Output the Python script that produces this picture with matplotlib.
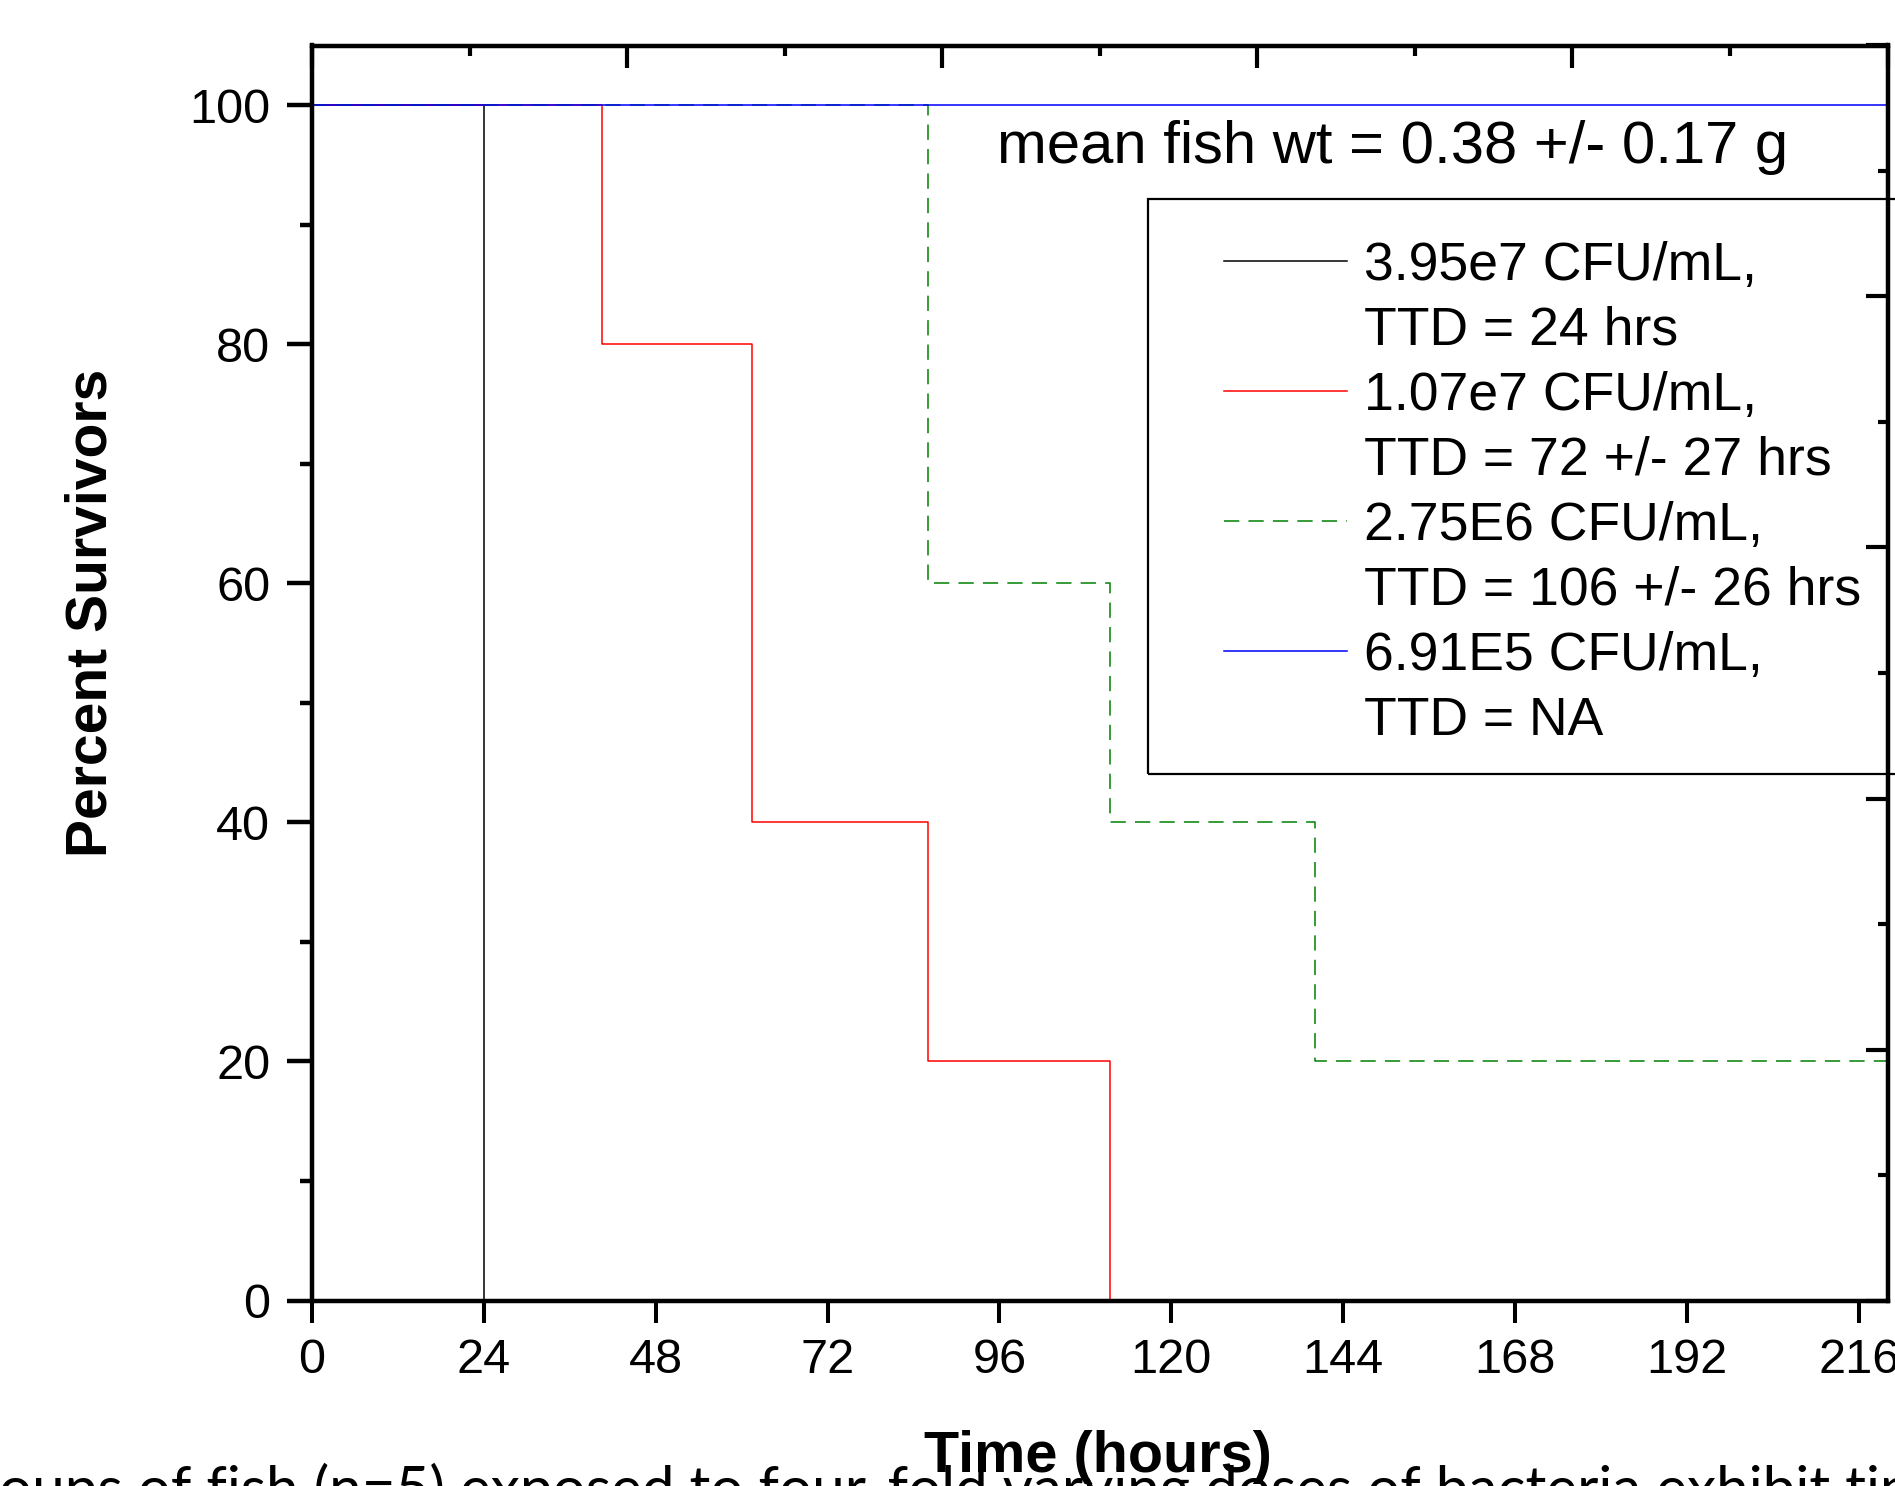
import matplotlib
matplotlib.use("Agg")
import matplotlib.pyplot as plt
from matplotlib.ticker import MultipleLocator
from matplotlib.lines import Line2D
from matplotlib.patches import Rectangle

plt.rcParams['font.family'] = ['Liberation Sans', 'DejaVu Sans']

# survival curves (time in hours, percent survivors), step after each time
black_t = [0, 24, 220]
black_s = [100, 0, 0]
red_t = [0, 40.5, 61.5, 86, 111.5, 220]
red_s = [100, 80, 40, 20, 0, 0]
green_t = [0, 86, 111.5, 140, 220]
green_s = [100, 60, 40, 20, 20]
blue_t = [0, 220]
blue_s = [100, 100]

doses = ["3.95e7 CFU/mL,", "1.07e7 CFU/mL,", "2.75E6 CFU/mL,", "6.91E5 CFU/mL,"]
ttd = ["TTD = 24 hrs", "TTD = 72 +/- 27 hrs", "TTD = 106 +/- 26 hrs", "TTD = NA"]
colors = ["black", "#ff0000", "#008000", "#0000ff"]
styles = ["-", "-", (0, (10, 6)), "-"]

W, H = 1895, 1486
fig = plt.figure(figsize=(W / 100, H / 100), dpi=100)
ax = fig.add_axes([312 / W, 1 - 1300.5 / H, (1887.5 - 312) / W, (1300.5 - 45.5) / H])

series = [(black_t, black_s), (red_t, red_s), (green_t, green_s), (blue_t, blue_s)]
for (t, s), c, ls in zip(series, colors, styles):
    ax.step(t, s, where='post', color=c, linestyle=ls, lw=1.1)

ax.set_xlim(0, 220)
ax.set_ylim(0, 105)
ax.set_xticks(range(0, 217, 24))
ax.set_yticks(range(0, 101, 20))
ax.yaxis.set_minor_locator(MultipleLocator(10))
for sp in ax.spines.values():
    sp.set_linewidth(3)
ax.tick_params(axis='x', direction='out', length=16, width=2.9, labelsize=35, pad=11)
ax.tick_params(axis='y', which='major', direction='out', length=18, width=3.2, labelsize=35, pad=12)
ax.tick_params(axis='y', which='minor', direction='out', length=8.6, width=3.2)

# top and right axes carry their own inward ticks
axt = ax.twiny()
axt.set_xlim(0, 220)
axt.xaxis.set_major_locator(MultipleLocator(44))
axt.xaxis.set_minor_locator(MultipleLocator(22))
axt.tick_params(axis='x', which='major', direction='in', length=16, width=3, labeltop=False)
axt.tick_params(axis='x', which='minor', direction='in', length=7, width=3)
axr = ax.twinx()
axr.set_ylim(0, 105)
axr.yaxis.set_major_locator(MultipleLocator(21))
axr.yaxis.set_minor_locator(MultipleLocator(10.5))
axr.tick_params(axis='y', which='major', direction='in', length=16, width=3, labelright=False)
axr.tick_params(axis='y', which='minor', direction='in', length=7, width=3)
for a in (axt, axr):
    for sp in a.spines.values():
        sp.set_linewidth(3)

fig.text(107 / W, 1 - 613 / H, "Percent Survivors", rotation=90, rotation_mode='anchor',
         ha='center', va='baseline', fontsize=41, fontweight='bold')
fig.text(1098 / W, 1 - 1472 / H, "Time (hours)", ha='center', va='baseline',
         fontsize=41.5, fontweight='bold')

ax.text(95.7, 95.2, "mean fish wt = 0.38 +/- 0.17 g", fontsize=43, va='baseline')

# legend: frame drawn separately, one row per text line
fig.patches.append(Rectangle((1148 / W, 1 - 774 / H), (2100 - 1148) / W, (774 - 199) / H,
                             transform=fig.transFigure, fill=False, edgecolor='black', lw=1.6))
handles, labels = [], []
for d, tt, c, ls in zip(doses, ttd, colors, styles):
    handles.append(Line2D([], [], color=c, linestyle=ls, lw=1.1))
    labels.append(d)
    handles.append(Line2D([], [], color='none'))
    labels.append(tt)
fig.legend(handles, labels, loc='upper left', bbox_to_anchor=(1197 / W, 1 - 214 / H),
           bbox_transform=fig.transFigure, frameon=False, fontsize=38.5, borderpad=0,
           handlelength=2.3, handletextpad=0.32, labelspacing=0.28)

fig.text(-65 / W, 1 - 1507 / H,
         "Groups of fish (n=5) exposed to four-fold varying doses of bacteria exhibit time",
         fontsize=42, family=['Lato', 'DejaVu Sans'], ha='left', va='baseline')

fig.savefig("out.png", dpi=100)
